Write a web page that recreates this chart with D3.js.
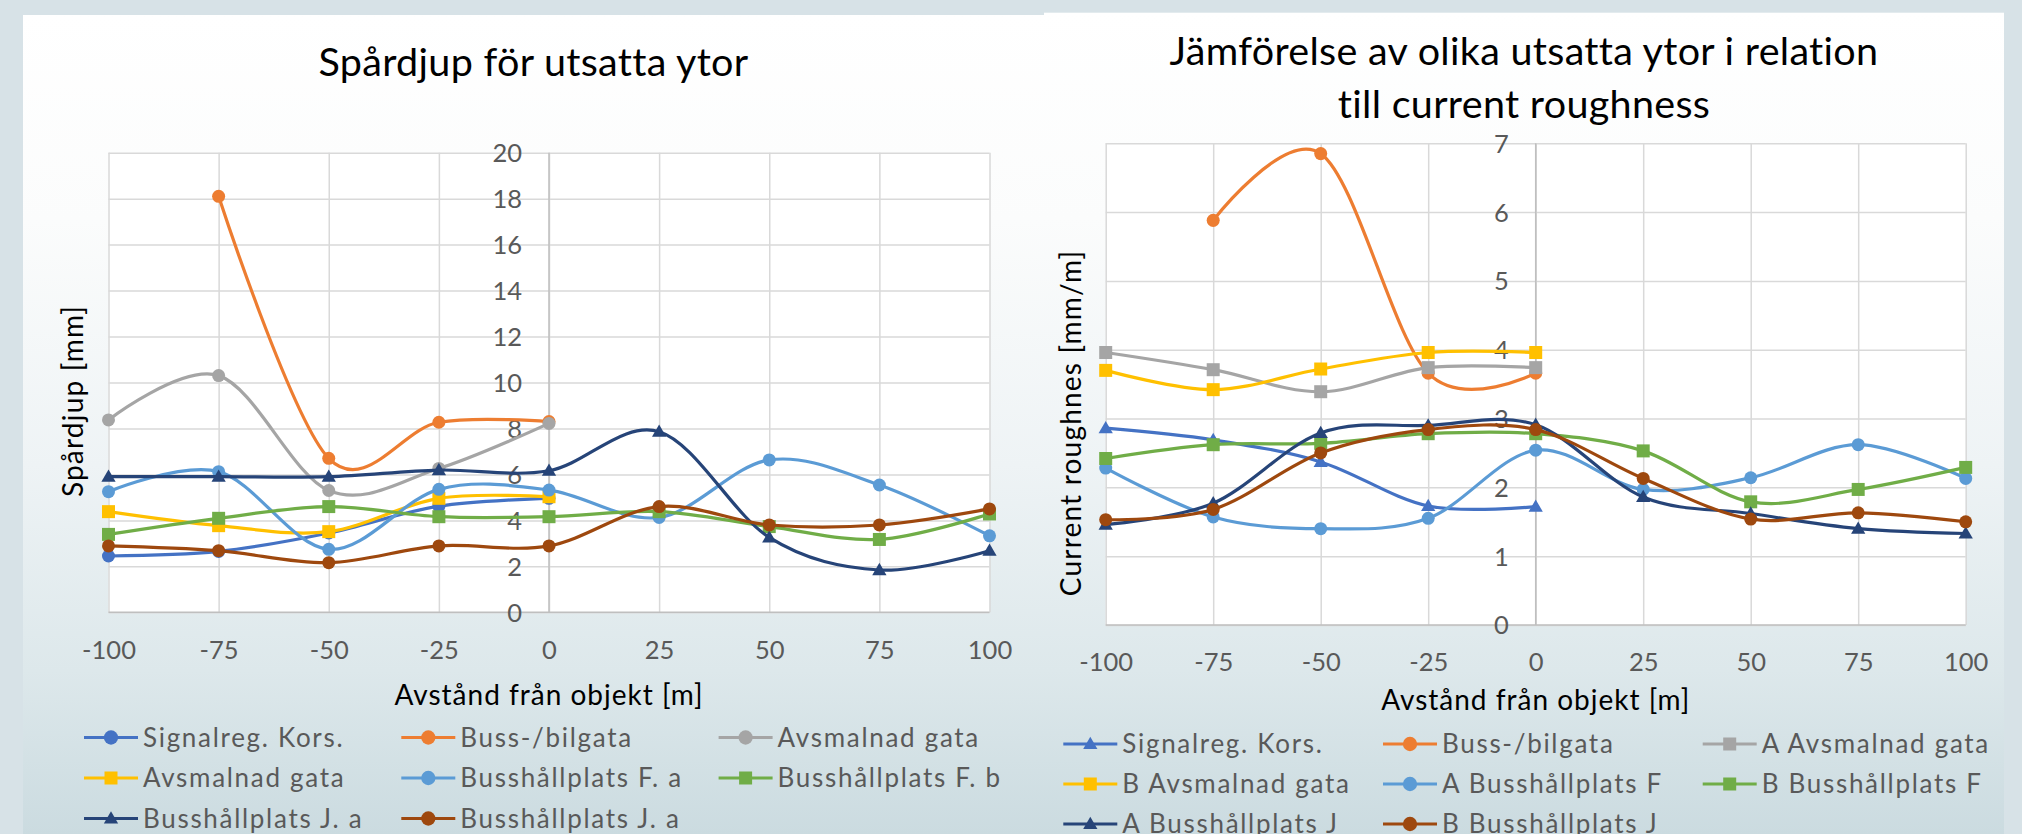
<!DOCTYPE html>
<html>
<head>
<meta charset="utf-8">
<script src="https://cdn.jsdelivr.net/npm/d3@7"></script>
<style>
  html, body { margin: 0; padding: 0; background: #d7e2e7; }
  svg { display: block; }
  text { font-family: Lato, "Open Sans", sans-serif; }
</style>
</head>
<body>
<svg id="chart" width="2022" height="834"></svg>
<script>
// Distance from the object [m] — shared x positions for both charts
const distances = [-100, -75, -50, -25, 0, 25, 50, 75, 100];
const xTickLabels = ["-100", "-75", "-50", "-25", "0", "25", "50", "75", "100"];

// ---- Chart 1: Spårdjup [mm] ----
const rutTicks = [0, 2, 4, 6, 8, 10, 12, 14, 16, 18, 20];
const rutNames = ["Signalreg. Kors.", "Buss-/bilgata", "Avsmalnad gata", "Avsmalnad gata",
                  "Busshållplats F. a", "Busshållplats F. b", "Busshållplats J. a", "Busshållplats J. a"];
const rutSymbols = ["circle", "circle", "circle", "square", "circle", "square", "triangle", "circle"];
const rutSignalreg   = [2.45, 2.65, 3.45, 4.62, 4.96, null, null, null, null];
const rutBussBil     = [null, 18.1, 6.70, 8.27, 8.30, null, null, null, null];
const rutAvsmalnad1  = [8.37, 10.3, 5.30, 6.26, 8.22, null, null, null, null];
const rutAvsmalnad2  = [4.38, 3.77, 3.51, 4.96, 5.03, null, null, null, null];
const rutHallplatsFa = [5.25, 6.12, 2.74, 5.35, 5.32, 4.13, 6.63, 5.54, 3.33];
const rutHallplatsFb = [3.39, 4.09, 4.60, 4.16, 4.16, 4.38, 3.73, 3.17, 4.28];
const rutHallplatsJa = [5.90, 5.90, 5.90, 6.19, 6.16, 7.86, 3.26, 1.84, 2.68];
const rutHallplatsJb = [2.89, 2.68, 2.16, 2.89, 2.89, 4.60, 3.80, 3.80, 4.50];

// ---- Chart 2: Current roughness [mm/m] ----
const roughTicks = [0, 1, 2, 3, 4, 5, 6, 7];
const roughNames = ["Signalreg. Kors.", "Buss-/bilgata", "A Avsmalnad gata", "B Avsmalnad gata",
                    "A Busshållplats F", "B Busshållplats F", "A Busshållplats J", "B Busshållplats J"];
const roughSymbols = ["triangle", "circle", "square", "square", "circle", "square", "triangle", "circle"];
const roughSignalreg  = [2.86, 2.69, 2.37, 1.73, 1.72, null, null, null, null];
const roughBussBil    = [null, 5.88, 6.85, 3.66, 3.66, null, null, null, null];
const roughAvsmalnadA = [3.96, 3.71, 3.39, 3.74, 3.74, null, null, null, null];
const roughAvsmalnadB = [3.70, 3.42, 3.72, 3.96, 3.96, null, null, null, null];
const roughHallplatsFA = [2.28, 1.57, 1.40, 1.55, 2.54, 1.97, 2.14, 2.62, 2.13];
const roughHallplatsFB = [2.42, 2.62, 2.64, 2.78, 2.78, 2.53, 1.79, 1.97, 2.29];
const roughHallplatsJA = [1.46, 1.77, 2.79, 2.90, 2.91, 1.86, 1.62, 1.40, 1.33];
const roughHallplatsJB = [1.53, 1.68, 2.50, 2.84, 2.84, 2.13, 1.54, 1.63, 1.50];

const seriesColors = ["#4472C4", "#ED7D31", "#A5A5A5", "#FFC000", "#5B9BD5", "#70AD47", "#264478", "#9E480E"];

const svg = d3.select("#chart");

// Card background gradient
const defs = svg.append("defs");
const grad = defs.append("linearGradient").attr("id", "cardFill")
  .attr("x1", 0).attr("y1", 0).attr("x2", 0).attr("y2", 1);
[[0, "#ffffff"], [0.25, "#fbfcfc"], [0.55, "#eef3f5"], [0.8, "#dde8eb"], [1, "#cbdbe0"]]
  .forEach(([o, c]) => grad.append("stop").attr("offset", o).attr("stop-color", c));

svg.append("rect").attr("x", 23).attr("y", 15).attr("width", 1021).attr("height", 819).attr("fill", "url(#cardFill)");
svg.append("rect").attr("x", 1044).attr("y", 12.7).attr("width", 960).attr("height", 821.3).attr("fill", "url(#cardFill)");

const symbolType = { circle: d3.symbolCircle, square: d3.symbolSquare, triangle: d3.symbolTriangle };
const symbolSize = { circle: 133, square: 169, triangle: 88 };

function drawChart(cfg) {
  const g = svg.append("g");
  const x = d3.scaleLinear().domain([-100, 100]).range([cfg.left, cfg.right]);
  const y = d3.scaleLinear().domain([0, cfg.yMax]).range([cfg.bottom, cfg.top]);
  const w = cfg.right - cfg.left, h = cfg.bottom - cfg.top;

  g.append("rect").attr("x", cfg.left).attr("y", cfg.top).attr("width", w).attr("height", h).attr("fill", "#ffffff");

  // gridlines
  g.append("g").attr("transform", `translate(${cfg.left},0)`)
    .call(d3.axisLeft(y).tickValues(cfg.yTicks).tickSize(-w).tickFormat(""))
    .call(s => s.select(".domain").remove())
    .selectAll("line").attr("stroke", "#d9d9d9").attr("stroke-width", 1.5);
  g.append("g").attr("transform", `translate(0,${cfg.bottom})`)
    .call(d3.axisBottom(x).tickValues(distances).tickSize(-h).tickFormat(""))
    .call(s => s.select(".domain").remove())
    .selectAll("line").attr("stroke", "#d9d9d9").attr("stroke-width", 1.5);

  // axis lines
  g.append("line").attr("x1", cfg.left).attr("x2", cfg.right).attr("y1", cfg.bottom).attr("y2", cfg.bottom)
    .attr("stroke", "#bfbfbf").attr("stroke-width", 1.5);
  g.append("line").attr("x1", x(0)).attr("x2", x(0)).attr("y1", cfg.top).attr("y2", cfg.bottom)
    .attr("stroke", "#bfbfbf").attr("stroke-width", 1.5);

  // y tick labels next to the vertical axis at x = 0
  g.append("g").attr("transform", `translate(${x(0)},0)`)
    .call(d3.axisLeft(y).tickValues(cfg.yTicks).tickSize(0).tickPadding(27).tickFormat(d3.format("d")))
    .call(s => s.select(".domain").remove())
    .selectAll("text").attr("font-size", 25.5).attr("fill", "#595959").attr("dy", "0.35em")
    .attr("font-family", "Lato");

  // x tick labels
  g.append("g").attr("transform", `translate(0,${cfg.bottom})`)
    .call(d3.axisBottom(x).tickValues(distances).tickSize(0).tickPadding(cfg.xLabelPad)
      .tickFormat((d, i) => xTickLabels[i]))
    .call(s => s.select(".domain").remove())
    .selectAll("text").attr("font-size", 25.5).attr("fill", "#595959").attr("font-family", "Lato");

  // titles
  const title = g.append("text").attr("text-anchor", "middle").attr("font-size", 39.5)
    .attr("letter-spacing", 0.3).attr("fill", "#000");
  cfg.title.forEach((t, i) => title.append("tspan").attr("x", cfg.titleX).attr("y", cfg.titleY + i * 53).text(t));

  g.append("text").attr("x", (cfg.left + cfg.right) / 2).attr("y", cfg.xTitleY)
    .attr("text-anchor", "middle").attr("font-size", 28).attr("letter-spacing", 1)
    .attr("fill", "#000").text(cfg.xTitle);
  g.append("text").attr("transform", `translate(${cfg.yTitleX},${cfg.yTitleY}) rotate(-90)`)
    .attr("text-anchor", "middle").attr("font-size", 28).attr("letter-spacing", 1.2)
    .attr("fill", "#000").text(cfg.yTitle);

  // series: smoothed lines with markers, drawn in series order
  const line = d3.line()
    .defined(d => d.v !== null)
    .x(d => x(d.x)).y(d => y(d.v))
    .curve(d3.curveCardinal.tension(0));

  cfg.series.forEach((vals, i) => {
    const pts = vals.map((v, j) => ({ x: distances[j], v }));
    const sg = g.append("g");
    sg.append("path").datum(pts).attr("d", line).attr("fill", "none")
      .attr("stroke", seriesColors[i]).attr("stroke-width", 3.2)
      .attr("stroke-linejoin", "round").attr("stroke-linecap", "round");
    const sym = cfg.symbols[i];
    sg.selectAll("path.mk").data(pts.filter(d => d.v !== null)).join("path").attr("class", "mk")
      .attr("transform", d => `translate(${x(d.x)},${y(d.v) + (sym === "triangle" ? 1 : 0)})`)
      .attr("d", d3.symbol(symbolType[sym], symbolSize[sym]))
      .attr("fill", seriesColors[i]);
  });

  // legend, three columns
  const lg = g.append("g");
  cfg.names.forEach((name, i) => {
    const col = i % 3, row = Math.floor(i / 3);
    const lx = cfg.legendX + col * cfg.legendColW;
    const ly = cfg.legendY + row * cfg.legendRowH;
    lg.append("line").attr("x1", lx).attr("x2", lx + 54).attr("y1", ly).attr("y2", ly)
      .attr("stroke", seriesColors[i]).attr("stroke-width", 3.2);
    const sym = cfg.symbols[i];
    lg.append("path").attr("transform", `translate(${lx + 27},${ly + (sym === "triangle" ? 1 : 0)})`)
      .attr("d", d3.symbol(symbolType[sym], sym === "circle" ? 160 : symbolSize[sym]))
      .attr("fill", seriesColors[i]);
    lg.append("text").attr("x", lx + 59).attr("y", ly + 9).attr("font-size", 26)
      .attr("letter-spacing", 1.7).attr("fill", "#595959").text(name);
  });
}

drawChart({
  left: 108.5, right: 989.5, top: 152.7, bottom: 612.3,
  yMax: 20, yTicks: rutTicks, xLabelPad: 28.5,
  title: ["Spårdjup för utsatta ytor"], titleX: 533.5, titleY: 76,
  xTitle: "Avstånd från objekt [m]", xTitleY: 705,
  yTitle: "Spårdjup [mm]", yTitleX: 82.5, yTitleY: 401,
  names: rutNames, symbols: rutSymbols,
  series: [rutSignalreg, rutBussBil, rutAvsmalnad1, rutAvsmalnad2, rutHallplatsFa, rutHallplatsFb, rutHallplatsJa, rutHallplatsJb],
  legendX: 84, legendY: 737.5, legendColW: 317.3, legendRowH: 40.5
});

drawChart({
  left: 1105.7, right: 1965.7, top: 143.3, bottom: 625,
  yMax: 7, yTicks: roughTicks, xLabelPad: 28,
  title: ["Jämförelse av olika utsatta ytor i relation", "till current roughness"], titleX: 1524, titleY: 65,
  xTitle: "Avstånd från objekt [m]", xTitleY: 709.5,
  yTitle: "Current roughnes [mm/m]", yTitleX: 1081, yTitleY: 423,
  names: roughNames, symbols: roughSymbols,
  series: [roughSignalreg, roughBussBil, roughAvsmalnadA, roughAvsmalnadB, roughHallplatsFA, roughHallplatsFB, roughHallplatsJA, roughHallplatsJB],
  legendX: 1063.3, legendY: 744, legendColW: 319.7, legendRowH: 40
});
</script>
</body>
</html>
